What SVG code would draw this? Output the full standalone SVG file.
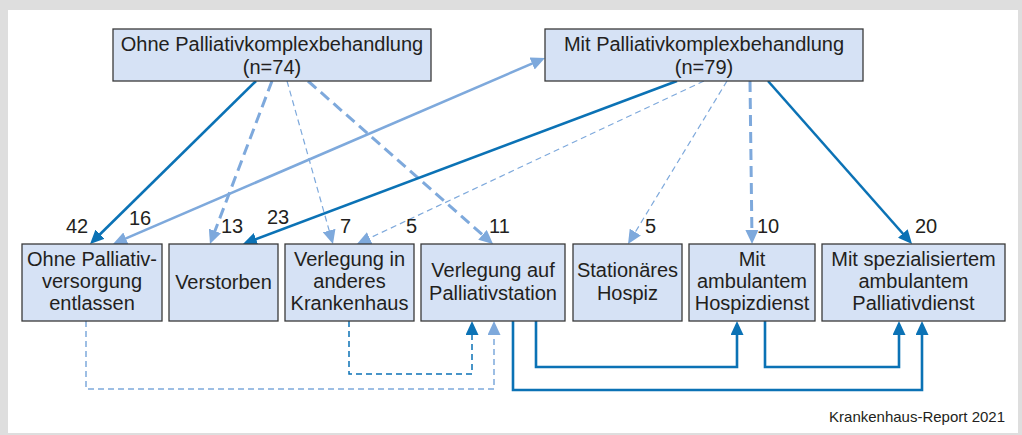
<svg xmlns="http://www.w3.org/2000/svg" width="1022" height="435" viewBox="0 0 1022 435">
<defs>
<style>
text{font-family:"Liberation Sans",Arial,sans-serif;fill:#231f20}
.lbl{font-size:20px;text-anchor:middle}
.num{font-size:20px}
.box{fill:#d6e2f5;stroke:#3a3a3a;stroke-width:1.3}
.dk{stroke:#0b72b5;fill:none}
.lt{stroke:#7ea9dc;fill:none}
.solid{stroke-width:2.6}
.thickdash{stroke-width:3;stroke-dasharray:11 6}
.thindash{stroke-width:1.2;stroke-dasharray:6 4}
.bdash{stroke-width:1.5;stroke-dasharray:6 4}
</style>
<marker id="ad" markerUnits="userSpaceOnUse" markerWidth="14" markerHeight="13" refX="10" refY="6.5" orient="auto"><path d="M0,0 L14,6.5 L0,13 z" fill="#0b72b5"/></marker>
<marker id="al" markerUnits="userSpaceOnUse" markerWidth="14" markerHeight="13" refX="10" refY="6.5" orient="auto-start-reverse"><path d="M0,0 L14,6.5 L0,13 z" fill="#7ea9dc"/></marker>
</defs>
<rect x="0" y="0" width="1022" height="435" fill="#dedede"/>
<rect x="8" y="10" width="1010" height="423" fill="#ffffff"/>

<g id="connectors">
<line class="dk solid" x1="256" y1="81" x2="92.9" y2="241.2" marker-end="url(#ad)"/>
<line class="lt thickdash" x1="272" y1="81" x2="211.4" y2="240.3" marker-end="url(#al)"/>
<line class="lt thindash" x1="287" y1="81" x2="331.9" y2="240.2" marker-end="url(#al)"/>
<line class="lt thickdash" x1="308" y1="81" x2="490" y2="241.4" marker-end="url(#al)"/>
<line class="lt solid" x1="116.7" y1="242.4" x2="541.3" y2="59.6" marker-start="url(#al)" marker-end="url(#al)"/>
<line class="dk solid" x1="677" y1="81" x2="246.7" y2="242.6" marker-end="url(#ad)"/>
<line class="lt thindash" x1="704" y1="81" x2="360.6" y2="242.3" marker-end="url(#al)"/>
<line class="lt thindash" x1="727" y1="81" x2="630.1" y2="240.6" marker-end="url(#al)"/>
<line class="lt thickdash" x1="750" y1="81" x2="752" y2="240" marker-end="url(#al)"/>
<line class="dk solid" x1="768" y1="81" x2="909.4" y2="241" marker-end="url(#ad)"/>
<path class="lt bdash" d="M86,321 V389 H494 V325" marker-end="url(#al)"/>
<path class="dk bdash" d="M349,321 V374 H472 V325" marker-end="url(#ad)"/>
<path class="dk solid" d="M513,321 V390 H922 V325" marker-end="url(#ad)"/>
<path class="dk solid" d="M536,321 V367 H737 V325" marker-end="url(#ad)"/>
<path class="dk solid" d="M765,321 V367 H899 V325" marker-end="url(#ad)"/>
</g>

<g id="ohne-pkb">
<rect class="box" x="113" y="29" width="318" height="52"/>
<text class="lbl" x="272" y="51">Ohne Palliativkomplexbehandlung</text>
<text class="lbl" x="272" y="74">(n=74)</text>
</g>
<g id="mit-pkb">
<rect class="box" x="545" y="29" width="318" height="52"/>
<text class="lbl" x="704" y="51">Mit Palliativkomplexbehandlung</text>
<text class="lbl" x="704" y="74">(n=79)</text>
</g>

<g id="entlassen">
<rect class="box" x="22" y="244" width="140" height="77"/>
<text class="lbl" x="92" y="266">Ohne Palliativ-</text>
<text class="lbl" x="92" y="288">versorgung</text>
<text class="lbl" x="92" y="310">entlassen</text>
</g>
<g id="verstorben">
<rect class="box" x="169" y="244" width="109" height="77"/>
<text class="lbl" x="223.5" y="289">Verstorben</text>
</g>
<g id="krankenhaus">
<rect class="box" x="285" y="244" width="129" height="77"/>
<text class="lbl" x="349.5" y="266">Verlegung in</text>
<text class="lbl" x="349.5" y="288">anderes</text>
<text class="lbl" x="349.5" y="310">Krankenhaus</text>
</g>
<g id="palliativstation">
<rect class="box" x="421" y="244" width="144" height="77"/>
<text class="lbl" x="493" y="277">Verlegung auf</text>
<text class="lbl" x="493" y="300">Palliativstation</text>
</g>
<g id="hospiz">
<rect class="box" x="573" y="244" width="109" height="77"/>
<text class="lbl" x="627.5" y="277">Stationäres</text>
<text class="lbl" x="627.5" y="300">Hospiz</text>
</g>
<g id="hospizdienst">
<rect class="box" x="689" y="244" width="126" height="77"/>
<text class="lbl" x="752" y="266">Mit</text>
<text class="lbl" x="752" y="288">ambulantem</text>
<text class="lbl" x="752" y="310">Hospizdienst</text>
</g>
<g id="palliativdienst">
<rect class="box" x="822" y="244" width="183" height="77"/>
<text class="lbl" x="913.5" y="266">Mit spezialisiertem</text>
<text class="lbl" x="913.5" y="288">ambulantem</text>
<text class="lbl" x="913.5" y="310">Palliativdienst</text>
</g>

<g id="numbers">
<text class="num" x="66" y="233">42</text>
<text class="num" x="129" y="225">16</text>
<text class="num" x="221" y="233">13</text>
<text class="num" x="267" y="224">23</text>
<text class="num" x="340" y="233">7</text>
<text class="num" x="406" y="233">5</text>
<text class="num" x="489" y="233">11</text>
<text class="num" x="645" y="233">5</text>
<text class="num" x="757" y="233">10</text>
<text class="num" x="915" y="233">20</text>
</g>
<text x="1005" y="422" style="font-size:15px;text-anchor:end">Krankenhaus-Report 2021</text>
</svg>
